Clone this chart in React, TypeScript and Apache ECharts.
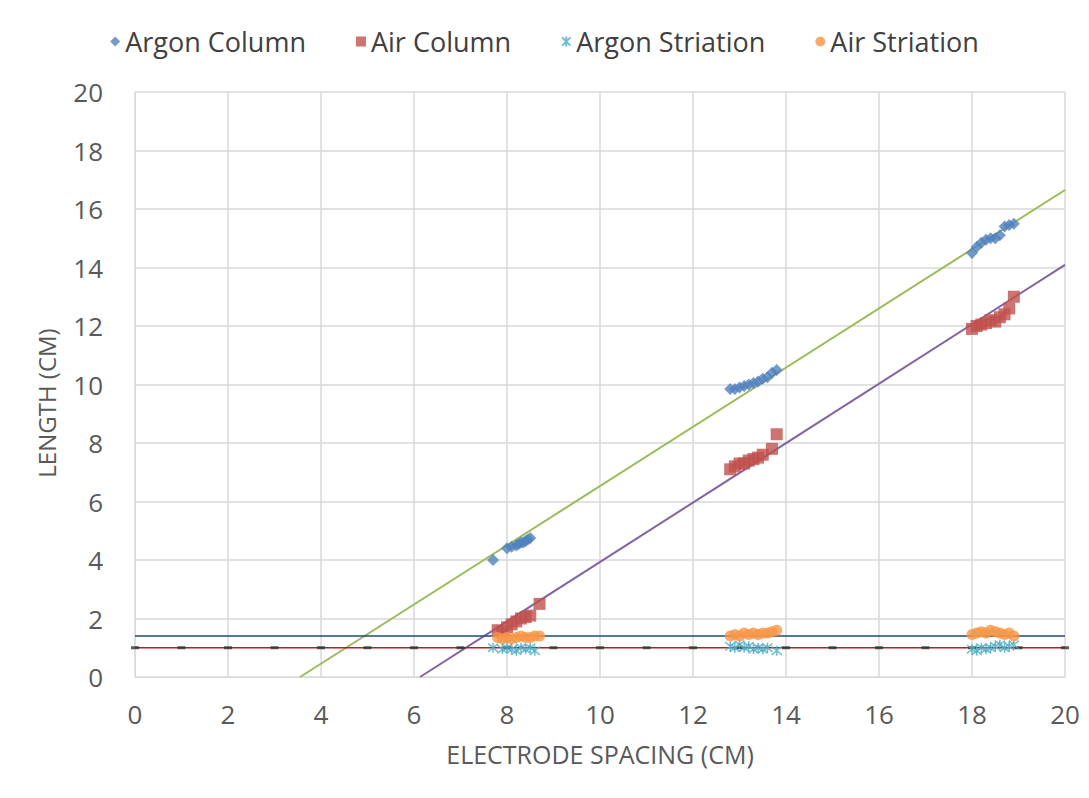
import React, { useEffect, useRef } from "react";
import * as echarts from "echarts";

const argonColumn: [number, number][] = [
  [7.7, 4.0], [8.0, 4.4], [8.1, 4.45], [8.2, 4.5], [8.25, 4.55], [8.3, 4.6], [8.35, 4.6], [8.4, 4.65], [8.45, 4.7], [8.5, 4.75],
  [12.8, 9.85], [12.9, 9.85], [13.0, 9.9], [13.1, 9.95], [13.2, 10.0], [13.3, 10.05], [13.4, 10.1], [13.5, 10.2], [13.6, 10.25], [13.7, 10.4], [13.8, 10.5],
  [18.0, 14.5], [18.1, 14.7], [18.2, 14.85], [18.3, 14.95], [18.4, 15.0], [18.5, 15.0], [18.6, 15.1], [18.7, 15.4], [18.8, 15.45], [18.9, 15.5],
];
const airColumn: [number, number][] = [
  [7.8, 1.6], [7.9, 1.55], [8.0, 1.7], [8.1, 1.8], [8.2, 1.9], [8.3, 2.0], [8.4, 2.05], [8.5, 2.1], [8.7, 2.5],
  [12.8, 7.1], [12.9, 7.2], [13.0, 7.3], [13.1, 7.3], [13.2, 7.4], [13.3, 7.45], [13.4, 7.5], [13.5, 7.6], [13.7, 7.8], [13.8, 8.3],
  [18.0, 11.9], [18.1, 12.0], [18.2, 12.05], [18.3, 12.1], [18.4, 12.2], [18.5, 12.15], [18.6, 12.3], [18.7, 12.4], [18.8, 12.6], [18.9, 13.0],
];
const argonStriation: [number, number][] = [
  [7.7, 1.0], [7.9, 0.95], [8.0, 1.0], [8.1, 0.95], [8.2, 0.9], [8.3, 1.0], [8.4, 0.95], [8.5, 1.0], [8.6, 0.9],
  [12.8, 1.05], [12.9, 1.0], [13.0, 1.1], [13.1, 1.0], [13.2, 1.05], [13.3, 0.95], [13.4, 1.0], [13.5, 0.95], [13.6, 1.0], [13.8, 0.9],
  [18.0, 0.95], [18.1, 0.9], [18.2, 1.0], [18.3, 0.95], [18.4, 1.0], [18.5, 1.05], [18.6, 1.1], [18.7, 1.0], [18.8, 1.05], [18.9, 1.1],
];
const airStriation: [number, number][] = [
  [7.8, 1.35], [7.9, 1.3], [8.0, 1.35], [8.1, 1.3], [8.2, 1.35], [8.3, 1.4], [8.4, 1.35], [8.5, 1.35], [8.6, 1.4], [8.7, 1.4],
  [12.8, 1.4], [12.9, 1.45], [13.0, 1.4], [13.1, 1.5], [13.2, 1.45], [13.3, 1.5], [13.4, 1.45], [13.5, 1.5], [13.6, 1.5], [13.7, 1.55], [13.8, 1.6],
  [18.0, 1.45], [18.1, 1.5], [18.2, 1.55], [18.3, 1.5], [18.4, 1.6], [18.5, 1.55], [18.6, 1.5], [18.7, 1.45], [18.8, 1.5], [18.9, 1.4],
];
const argonTrend: [number, number][] = [[3.55, 0], [20, 16.65]];
const airTrend: [number, number][] = [[6.13, 0], [20, 14.09]];
const argonStriationRef: [number, number][] = [[0, 1.4], [20, 1.4]];
const airStriationRef: [number, number][] = [[0, 1.0], [20, 1.0]];
const dashMarks: [number, number][] = [
  [0, 1], [1, 1], [2, 1], [3, 1], [4, 1], [5, 1], [6, 1], [7, 1], [8, 1], [9, 1], [10, 1],
  [11, 1], [12, 1], [13, 1], [14, 1], [15, 1], [16, 1], [17, 1], [18, 1], [19, 1], [20, 1],
];
const seriesNames = ["Argon Column", "Air Column", "Argon Striation", "Air Striation"];
const xTitle = "ELECTRODE SPACING (CM)";
const yTitle = "LENGTH (CM)";

const FONT = "'Open Sans', 'Noto Sans', sans-serif";
const asterisk = "path://M0,0L10,10M0,10L10,0M5,-1L5,11";

export default function App() {
  const ref = useRef<HTMLDivElement>(null);
  useEffect(() => {
    if (!ref.current) return;
    const chart = echarts.init(ref.current, undefined, { renderer: "svg" });
    chart.setOption({
      animation: false,
      backgroundColor: "#fff",
      textStyle: { fontFamily: FONT },
      legend: {
        data: [
          { name: seriesNames[0], icon: "diamond" },
          { name: seriesNames[1], icon: "rect" },
          { name: seriesNames[2], icon: asterisk },
          { name: seriesNames[3], icon: "circle" },
        ],
        top: 23,
        left: "center",
        itemWidth: 10,
        itemHeight: 10,
        itemGap: 50,
        textStyle: { fontSize: 27, color: "#404040", fontFamily: FONT },
      },
      grid: { left: 135, right: 24, top: 92, bottom: 121 },
      graphic: [
        {
          type: "text",
          x: 46,
          y: 403,
          rotation: Math.PI / 2,
          style: {
            text: yTitle,
            fontSize: 24,
            fill: "#595959",
            fontFamily: FONT,
            align: "center",
            verticalAlign: "middle",
          },
        },
      ],
      xAxis: {
        type: "value",
        min: 0,
        max: 20,
        interval: 2,
        name: xTitle,
        nameLocation: "middle",
        nameGap: 64,
        nameTextStyle: { fontSize: 25, color: "#595959", fontFamily: FONT },
        axisLine: { show: true, lineStyle: { color: "#d9d9d9" } },
        axisTick: { show: false },
        axisLabel: { fontSize: 26, color: "#595959", margin: 24 },
        splitLine: { show: true, lineStyle: { color: "#d9d9d9", width: 1.5 } },
      },
      yAxis: {
        type: "value",
        min: 0,
        max: 20,
        interval: 2,
        axisLine: { show: true, lineStyle: { color: "#d9d9d9" } },
        axisTick: { show: false },
        axisLabel: { fontSize: 26, color: "#595959", margin: 32 },
        splitLine: { show: true, lineStyle: { color: "#d9d9d9", width: 1.5 } },
      },
      series: [
        {
          name: "argonTrend", type: "line", data: argonTrend, symbol: "none",
          lineStyle: { color: "#9BBB59", width: 2 }, silent: true, z: 1,
        },
        {
          name: "airTrend", type: "line", data: airTrend, symbol: "none",
          lineStyle: { color: "#8064A2", width: 2 }, silent: true, z: 1,
        },
        {
          name: "argonRef", type: "line", data: argonStriationRef, symbol: "none",
          lineStyle: { color: "#1F497D", width: 1.5 }, silent: true, z: 1,
        },
        {
          name: "airRef", type: "line", data: airStriationRef, symbol: "none",
          lineStyle: { color: "#C0182B", width: 1.5 }, silent: true, z: 1,
        },
        {
          name: "dashes", type: "scatter", data: dashMarks, symbol: "rect", symbolSize: [8, 3],
          itemStyle: { color: "#333" }, silent: true, z: 2,
        },
        {
          name: seriesNames[0], type: "scatter", data: argonColumn, symbol: "diamond", symbolSize: 12,
          itemStyle: { color: "#4F81BD" }, z: 3,
        },
        {
          name: seriesNames[1], type: "scatter", data: airColumn, symbol: "rect", symbolSize: 12,
          itemStyle: { color: "#C0504D" }, z: 3,
        },
        {
          name: seriesNames[2], type: "scatter", data: argonStriation, symbol: asterisk, symbolSize: 10,
          itemStyle: { color: "#4BACC6", borderColor: "#4BACC6", borderWidth: 1.5 }, z: 3,
        },
        {
          name: seriesNames[3], type: "scatter", data: airStriation, symbol: "circle", symbolSize: 11,
          itemStyle: { color: "#F79646" }, z: 3,
        },
      ],
    });
    return () => chart.dispose();
  }, []);
  return (
    <div
      ref={ref}
      style={{ position: "absolute", left: 0, top: 0, width: 1089, height: 798 }}
    />
  );
}
